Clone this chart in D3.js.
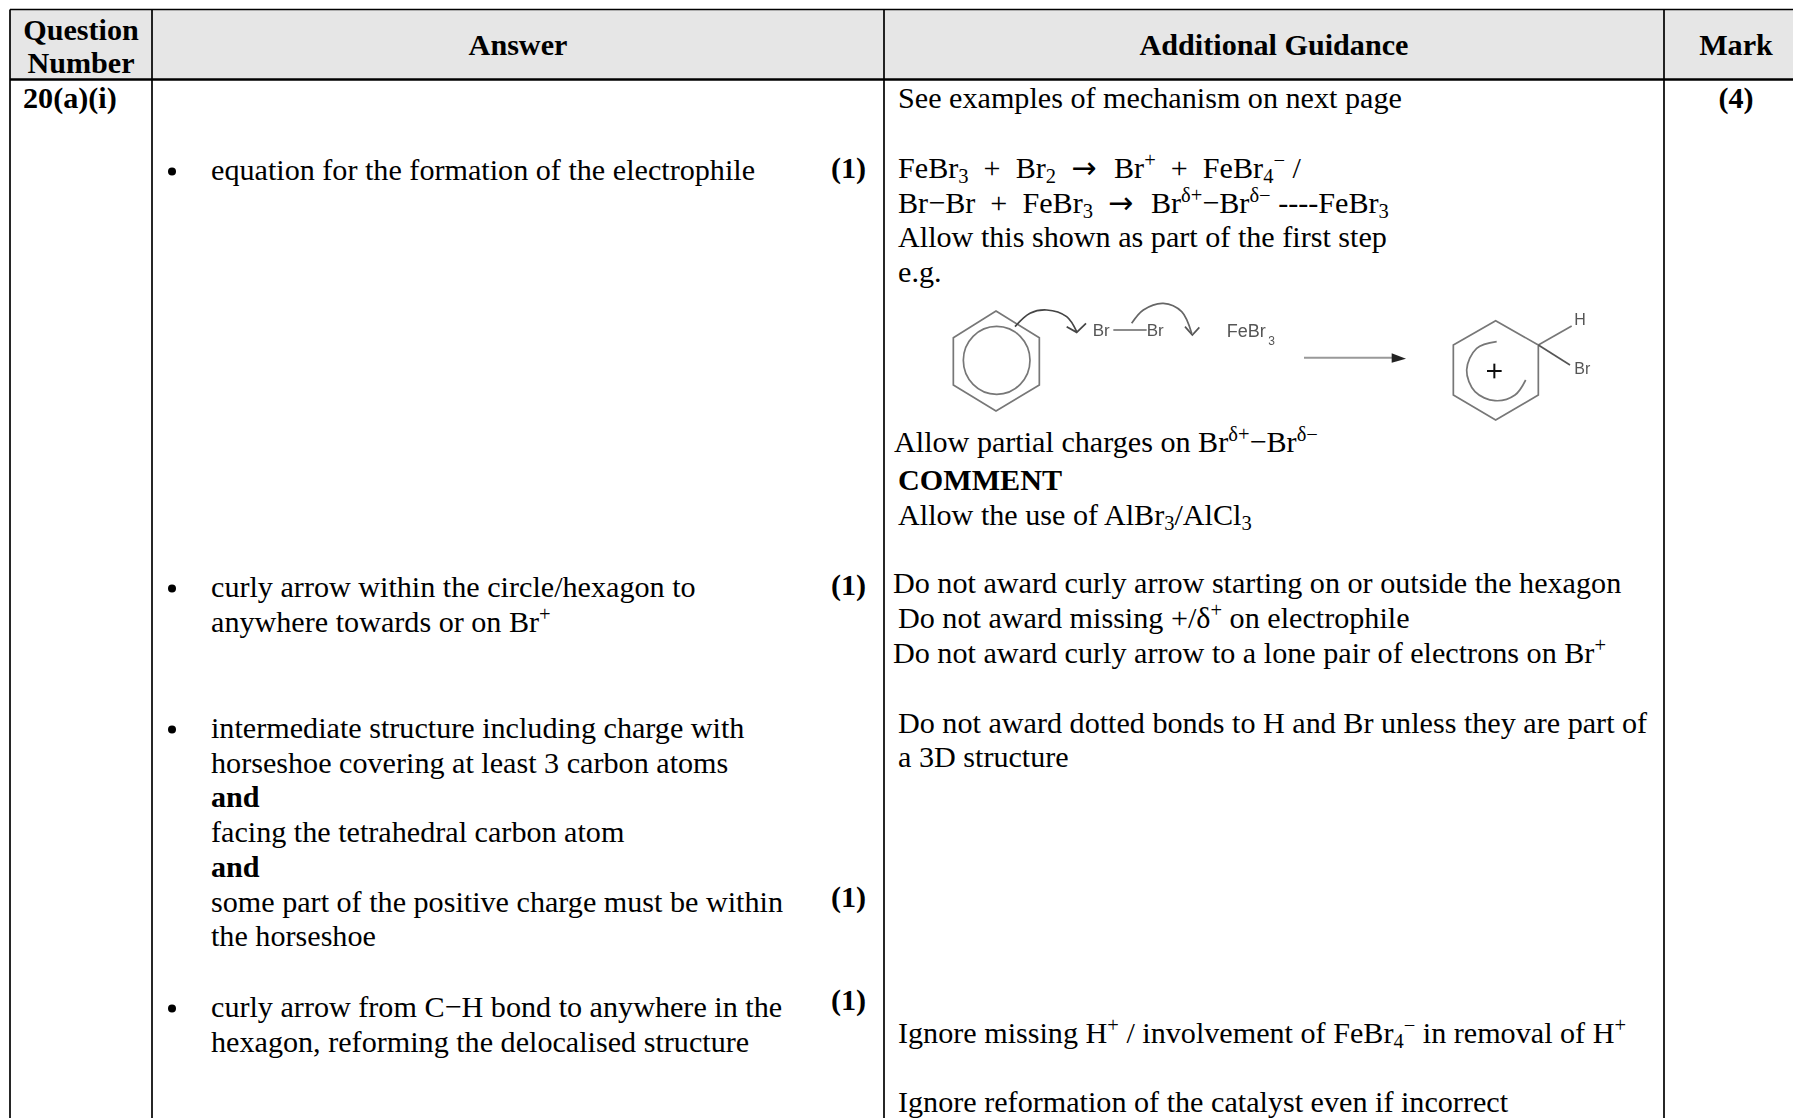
<!DOCTYPE html>
<html>
<head>
<meta charset="utf-8">
<script src="https://cdn.jsdelivr.net/npm/d3@7"></script>
<style>
  html, body { margin: 0; padding: 0; background: #fff; }
  svg { display: block; }
  text { font-family: "Liberation Serif", serif; fill: #000; white-space: pre; }
</style>
</head>
<body>
<svg id="sheet" width="1793" height="1118"></svg>
<script>
// table content. ^{} is superscript, _{} is subscript, ** marks a bold line
const headers = ['Question|Number', 'Answer', 'Additional Guidance', 'Mark']
const questionNumber = '20(a)(i)'
const totalMark = '(4)'

const answerLines = [
    'equation for the formation of the electrophile',
    'curly arrow within the circle/hexagon to',
    'anywhere towards or on Br^{+}',
    'intermediate structure including charge with',
    'horseshoe covering at least 3 carbon atoms',
    '**and',
    'facing the tetrahedral carbon atom',
    '**and',
    'some part of the positive charge must be within',
    'the horseshoe',
    'curly arrow from C\u2212H bond to anywhere in the',
    'hexagon, reforming the delocalised structure'
]
const answerBaselines = [180, 597, 632, 738, 773, 807, 842, 877, 912, 946, 1017, 1052]
const bulletBaselines = [180, 597, 738, 1017]
const markBaselines = [178, 595, 907, 1010]

const guidanceLines = [
    'See examples of mechanism on next page',
    'FeBr_{3}  +  Br_{2}  \u2192 \u200a Br^{+}  +  FeBr_{4}^{\u2212} /',
    'Br\u2212Br  +  FeBr_{3}  \u2192 \u200a Br^{\u03b4+}\u2212Br^{\u03b4\u2212} ----FeBr_{3}',
    'Allow this shown as part of the first step',
    'e.g.',
    'Allow partial charges on Br^{\u03b4+}\u2212Br^{\u03b4\u2212}',
    '**COMMENT',
    'Allow the use of AlBr_{3}/AlCl_{3}',
    'Do not award curly arrow starting on or outside the hexagon',
    'Do not award missing +/\u03b4^{+} on electrophile',
    'Do not award curly arrow to a lone pair of electrons on Br^{+}',
    'Do not award dotted bonds to H and Br unless they are part of',
    'a 3D structure',
    'Ignore missing H^{+} / involvement of FeBr_{4}^{\u2212} in removal of H^{+}',
    'Ignore reformation of the catalyst even if incorrect'
]
const guidanceBaselines = [108, 178, 213, 247, 282, 452, 490, 525, 593, 628, 663, 733, 767, 1043, 1112]
const guidanceLefts = [898, 898, 898, 898, 898, 894, 898, 898, 893, 898, 893, 898, 898, 898, 898]

// left half of the mechanism drawing, in crop units
const benzeneRing = [[198, 48], [328, 128], [328, 270], [198, 348], [70, 270], [70, 128]]
const benzeneCircle = { cx: 200, cy: 196, rx: 100, ry: 102 }
const curlyOne = [[255, 95], [300, 55], [350, 45], [410, 65], [440, 110]]
const curlyOneHead = [[410, 95], [440, 112], [468, 85]]
const curlyTwo = [[605, 85], [640, 45], [700, 25], [755, 50], [785, 115]]
const curlyTwoHead = [[765, 95], [787, 120], [808, 97]]
const brBond = [[550, 105], [650, 105]]
const leftLabels = [
    { t: 'Br', x: 488, y: 122, s: 17 },
    { t: 'Br', x: 650, y: 122, s: 17 },
    { t: 'FeBr', x: 890, y: 125, s: 18 },
    { t: '3', x: 1015, y: 150, s: 12 }
]

// right half, in crop units
const reactionArrow = [[42, 143], [310, 143]]
const reactionHead = [[305, 130], [348, 146], [305, 158]]
const cationRing = [[617, 32], [745, 105], [745, 255], [617, 330], [490, 255], [490, 105]]
const hBond = [[745, 105], [845, 48]]
const brOutBond = [[745, 105], [840, 165]]
const horseshoe = [[620, 95], [560, 115], [530, 180], [555, 245], [615, 272], [675, 255], [707, 210]]
const plusSign = [[[591, 183], [635, 183]], [[613, 161], [613, 205]]]
const rightLabels = [
    { t: 'H', x: 853, y: 45, s: 16 },
    { t: 'Br', x: 853, y: 192, s: 16 }
]

const W = 1793, H = 1118
const colX = [10, 152, 884, 1664]
const topY = 9.5, headY = 79.5
const FS = 30.15

const svg = d3.select('#sheet')

const blur = svg.append('defs').append('filter').attr('id', 'soft')
blur.append('feGaussianBlur').attr('stdDeviation', 0.7)

// header band
svg.append('rect')
    .attr('x', colX[0]).attr('y', topY)
    .attr('width', W - colX[0]).attr('height', headY - topY)
    .attr('fill', '#e6e6e6')

// rules
svg.selectAll('line.col').data(colX).join('line')
    .attr('class', 'col')
    .attr('x1', d => d).attr('x2', d => d)
    .attr('y1', topY).attr('y2', H)
    .attr('stroke', '#000').attr('stroke-width', 1.7)
svg.append('line')
    .attr('x1', colX[0]).attr('x2', W).attr('y1', topY).attr('y2', topY)
    .attr('stroke', '#000').attr('stroke-width', 1.5)
svg.append('line')
    .attr('x1', colX[0]).attr('x2', W).attr('y1', headY).attr('y2', headY)
    .attr('stroke', '#000').attr('stroke-width', 2.6)

// writes one line, splitting out the sub and superscripts
function richText(sel, str, x, y, size) {
    const bold = str.startsWith('**')
    const src = bold ? str.slice(2) : str
    const t = sel.append('text')
        .attr('x', x).attr('y', y)
        .attr('font-size', size)
        .attr('font-weight', bold ? 'bold' : 'normal')
    const re = /([\^_])\{([^}]*)\}/g
    let last = 0, m, shift = 0
    const add = (txt, target, fs) => {
        if (!txt) return
        // the serif arrow is too short, take it from DejaVu
        txt.split(/(\u2192)/).forEach(part => {
            if (!part) return
            const span = t.append('tspan')
                .attr('dy', target - shift)
                .attr('font-size', fs)
                .text(part)
            if (part === '\u2192') span.style('font-family', '"DejaVu Sans", sans-serif')
            shift = target
        })
    }
    while ((m = re.exec(src)) !== null) {
        add(src.slice(last, m.index), 0, size)
        add(m[2], m[1] === '^' ? -size * 0.36 : size * 0.16, size * 0.68)
        last = re.lastIndex
    }
    add(src.slice(last), 0, size)
    return t
}

// header text
const headCentres = [81, 518, 1274, 1736]
headers.forEach((h, i) => {
    const parts = h.split('|')
    const base = parts.length > 1 ? [40, 73] : [55]
    parts.forEach((p, j) => {
        svg.append('text')
            .attr('x', headCentres[i]).attr('y', base[j])
            .attr('text-anchor', 'middle')
            .attr('font-size', FS).attr('font-weight', 'bold')
            .text(p)
    })
})

svg.append('text').attr('x', 23).attr('y', 108)
    .attr('font-size', FS).attr('font-weight', 'bold').text(questionNumber)
svg.append('text').attr('x', 1736).attr('y', 108).attr('text-anchor', 'middle')
    .attr('font-size', FS).attr('font-weight', 'bold').text(totalMark)

// answer column
answerLines.forEach((l, i) => richText(svg, l, 211, answerBaselines[i], FS))
svg.selectAll('circle.bullet').data(bulletBaselines).join('circle')
    .attr('class', 'bullet')
    .attr('cx', 172).attr('cy', d => d - 8.5).attr('r', 4)
    .attr('fill', '#000')
svg.selectAll('text.mark').data(markBaselines).join('text')
    .attr('class', 'mark')
    .attr('x', 831).attr('y', d => d)
    .attr('font-size', FS).attr('font-weight', 'bold')
    .text('(1)')

// guidance column
guidanceLines.forEach((l, i) => richText(svg, l, guidanceLefts[i], guidanceBaselines[i], FS))

// mechanism drawing, one pair of scales for each half
function drawing(xDomain, xRange, yDomain, yRange) {
    const x = d3.scaleLinear().domain(xDomain).range(xRange)
    const y = d3.scaleLinear().domain(yDomain).range(yRange)
    return {
        x, y,
        straight: d3.line().x(d => x(d[0])).y(d => y(d[1])),
        curved: d3.line().x(d => x(d[0])).y(d => y(d[1])).curve(d3.curveCatmullRom)
    }
}
const left = drawing([0, 1080], [930, 1290], [0, 390], [295, 425])
const right = drawing([0, 960], [1290, 1610], [0, 360], [310, 430])

const pic = svg.append('g').attr('filter', 'url(#soft)')
    .attr('fill', 'none').attr('stroke', '#777').attr('stroke-width', 1.7)

pic.append('path').attr('d', left.straight(benzeneRing) + 'Z')
pic.append('ellipse')
    .attr('cx', left.x(benzeneCircle.cx)).attr('cy', left.y(benzeneCircle.cy))
    .attr('rx', left.x(benzeneCircle.cx + benzeneCircle.rx) - left.x(benzeneCircle.cx))
    .attr('ry', left.y(benzeneCircle.cy + benzeneCircle.ry) - left.y(benzeneCircle.cy))
pic.append('path').attr('d', left.curved(curlyOne)).attr('stroke', '#444')
pic.append('path').attr('d', left.straight(curlyOneHead)).attr('stroke', '#444')
pic.append('path').attr('d', left.curved(curlyTwo)).attr('stroke', '#666')
pic.append('path').attr('d', left.straight(curlyTwoHead)).attr('stroke', '#555')
pic.append('path').attr('d', left.straight(brBond)).attr('stroke', '#666')

pic.append('path').attr('d', right.straight(reactionArrow)).attr('stroke', '#999').attr('stroke-width', 2)
pic.append('path').attr('d', right.straight(reactionHead) + 'Z').attr('fill', '#222').attr('stroke', 'none')
pic.append('path').attr('d', right.straight(cationRing) + 'Z')
pic.append('path').attr('d', right.straight(hBond))
pic.append('path').attr('d', right.straight(brOutBond)).attr('stroke', '#555')
pic.append('path').attr('d', right.curved(horseshoe))
plusSign.forEach(p => pic.append('path').attr('d', right.straight(p)).attr('stroke', '#111').attr('stroke-width', 2))

const drawLabels = (labels, sc) => pic.selectAll(null).data(labels).join('text')
    .attr('x', d => sc.x(d.x)).attr('y', d => sc.y(d.y))
    .attr('font-size', d => d.s)
    .style('font-family', '"Liberation Sans", sans-serif')
    .style('fill', '#555').attr('stroke', 'none')
    .text(d => d.t)
drawLabels(leftLabels, left)
drawLabels(rightLabels, right)
</script>
</body>
</html>
